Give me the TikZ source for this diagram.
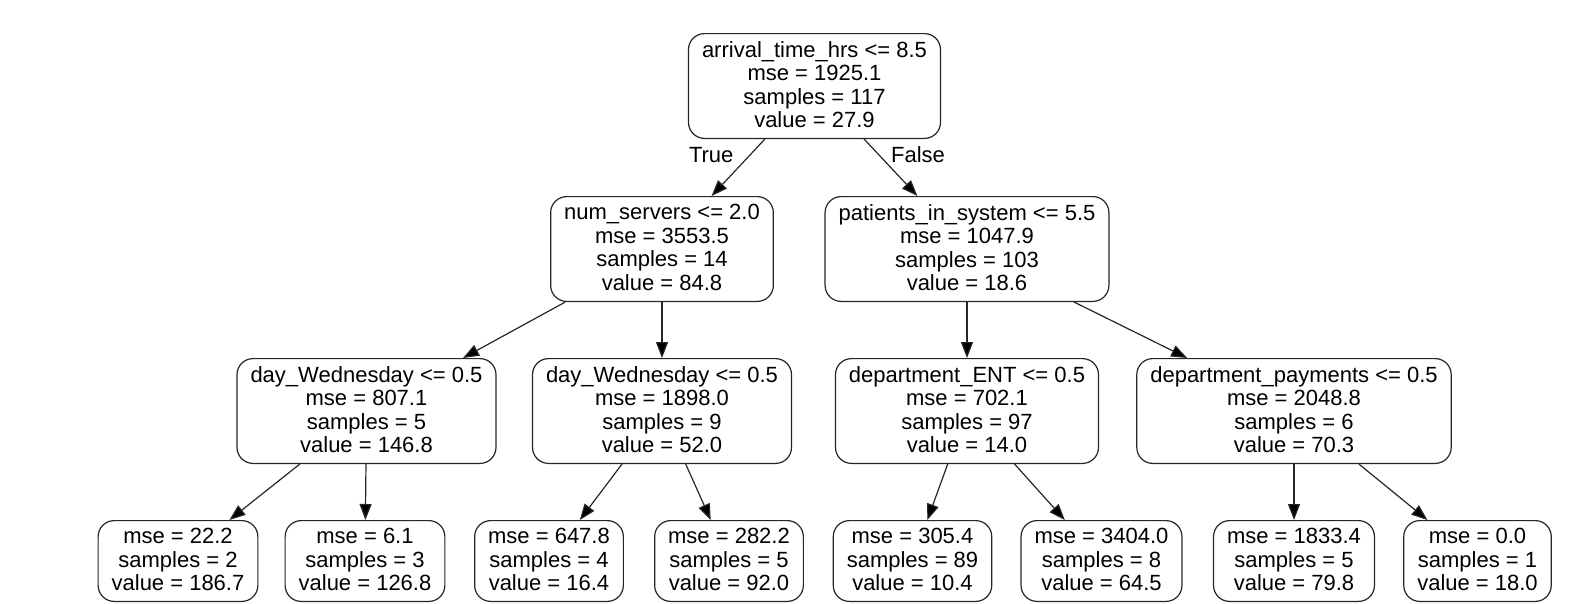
\documentclass[tikz,border=0pt]{standalone}
\usepackage{fontspec}
\setmainfont{Liberation Sans}
\usetikzlibrary{positioning,arrows.meta}

\begin{document}
\begin{tikzpicture}
            [split/.style={rectangle,draw=black!85,line width=1.2pt,rounded corners=16pt,align=center,
                font=\fontsize{22pt}{23.6pt}\selectfont,inner xsep=13.5pt,inner ysep=3pt,minimum height=104.8pt,
                execute at end node={\rule[-3pt]{0pt}{0pt}}},
             leaf/.style={split,minimum height=80.8pt},
             arr/.style={-{Triangle[length=16pt,width=12pt]},line width=1.2pt,draw=black!85},
             lbl/.style={font=\fontsize{22pt}{23.6pt}\selectfont,inner sep=0pt}]
            \useasboundingbox (0,0) rectangle (1588pt,-603pt);
            \node[split](root) at (814.5pt,-86pt) {arrival\_time\_hrs <= 8.5\\mse = 1925.1\\samples = 117\\value = 27.9};
            \node[split](ns)[below=57pt of root,xshift=-152.5pt] {num\_servers <= 2.0\\mse = 3553.5\\samples = 14\\value = 84.8};
            \node[split](pis)[below=57pt of root,xshift=152.5pt] {patients\_in\_system <= 5.5\\mse = 1047.9\\samples = 103\\value = 18.6};
            \node[split](dw1)[below=56pt of ns,xshift=-295.5pt] {day\_Wednesday <= 0.5\\mse = 807.1\\samples = 5\\value = 146.8};
            \node[split](dw2)[below=56pt of ns] {day\_Wednesday <= 0.5\\mse = 1898.0\\samples = 9\\value = 52.0};
            \node[split](ent)[below=56pt of pis] {department\_ENT <= 0.5\\mse = 702.1\\samples = 97\\value = 14.0};
            \node[split](pay)[below=56pt of pis,xshift=327pt] {department\_payments <= 0.5\\mse = 2048.8\\samples = 6\\value = 70.3};
            \node[leaf](l1)[below=56pt of dw1,xshift=-188.5pt] {mse = 22.2\\samples = 2\\value = 186.7};
            \node[leaf](l2)[below=56pt of dw1,xshift=-1.5pt] {mse = 6.1\\samples = 3\\value = 126.8};
            \node[leaf](l3)[below=56pt of dw2,xshift=-113pt] {mse = 647.8\\samples = 4\\value = 16.4};
            \node[leaf](l4)[below=56pt of dw2,xshift=67pt] {mse = 282.2\\samples = 5\\value = 92.0};
            \node[leaf](l5)[below=56pt of ent,xshift=-54.5pt] {mse = 305.4\\samples = 89\\value = 10.4};
            \node[leaf](l6)[below=56pt of ent,xshift=134.5pt] {mse = 3404.0\\samples = 8\\value = 64.5};
            \node[leaf](l7)[below=56pt of pay] {mse = 1833.4\\samples = 5\\value = 79.8};
            \node[leaf](l8)[below=56pt of pay,xshift=183.5pt] {mse = 0.0\\samples = 1\\value = 18.0};
            \path[arr](root) edge node[lbl,pos=0.28,left=16pt]{True}(ns) edge node[lbl,pos=0.28,right=11.6pt]{False}(pis)
            (ns)edge(dw1)edge(dw2)
            (pis)edge(ent)edge(pay)
            (dw1)edge(l1)edge(l2)
            (dw2)edge(l3)edge(l4)
            (ent)edge(l5)edge(l6)
            (pay)edge(l7)edge(l8);
        \end{tikzpicture}
\end{document}
